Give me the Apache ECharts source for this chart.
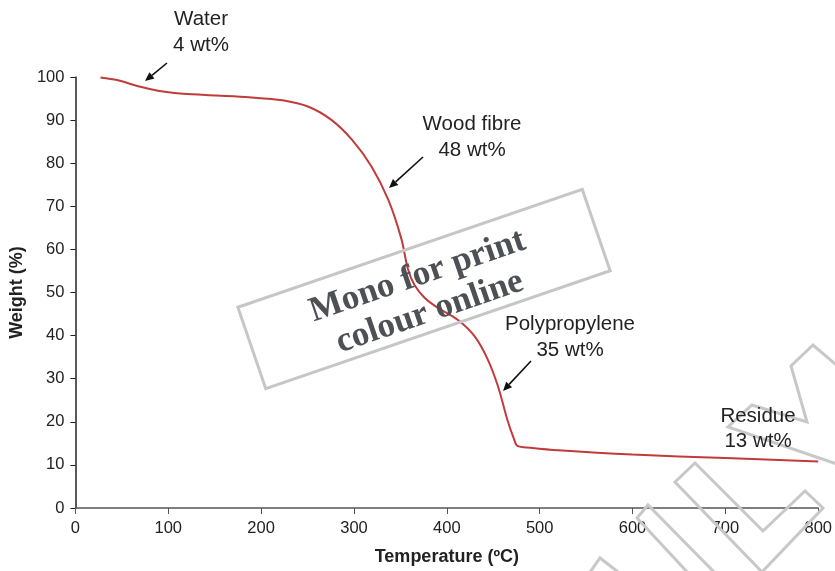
<!DOCTYPE html>
<html>
<head>
<meta charset="utf-8">
<script src="https://cdn.jsdelivr.net/npm/echarts@6/dist/echarts.min.js"></script>
<style>
html,body{margin:0;padding:0;background:#fff;}
#chart{width:835px;height:571px;}
</style>
</head>
<body>
<div id="chart"></div>
<script>
// Data
const temperature = [27, 45, 62, 80, 98, 116, 152, 187, 223, 251, 276, 298, 319, 337, 351, 358, 365, 376, 390, 412, 430, 444, 455, 465, 472, 476, 490, 520, 600, 700, 800];
const weight = [99.9, 99.3, 98.2, 97.2, 96.5, 96.1, 95.7, 95.3, 94.6, 93.1, 90.0, 85.4, 79.2, 71.5, 62.5, 55.5, 51.8, 48.8, 46.5, 43.6, 39.8, 34.5, 28.3, 20.6, 16.2, 14.4, 14.0, 13.4, 12.4, 11.6, 10.8];
const xTicks = [0, 100, 200, 300, 400, 500, 600, 700, 800];
const yTicks = [0, 10, 20, 30, 40, 50, 60, 70, 80, 90, 100];
const annotationTexts = ["Water\n4 wt%", "Wood fibre\n48 wt%", "Polypropylene\n35 wt%", "Residue\n13 wt%"];
const watermarkText = "Mono for print\ncolour online";

const seriesData = temperature.map((t, i) => [t, weight[i]]);

function arrow(x1, y1, x2, y2) {
  const a = Math.atan2(y2 - y1, x2 - x1);
  const L = 9, W = 4;
  const bx = x2 - L * Math.cos(a), by = y2 - L * Math.sin(a);
  const px = -Math.sin(a), py = Math.cos(a);
  return [
    {type: 'line', z: 50, shape: {x1: x1, y1: y1, x2: bx, y2: by}, style: {stroke: '#111', lineWidth: 1.6}},
    {type: 'polygon', z: 50, shape: {points: [[x2, y2], [bx + px * W, by + py * W], [bx - px * W, by - py * W]]}, style: {fill: '#111'}}
  ];
}
function label(x, y, txt, lh) {
  return {type: 'text', z: 50, x: x, y: y, style: {text: txt, font: '20.5px "Liberation Sans", Arial, sans-serif', fill: '#222', align: 'center', verticalAlign: 'middle', lineHeight: lh}};
}
function wm(points, closed) {
  return {type: closed ? 'polygon' : 'polyline', z: 40, shape: {points: points}, style: {stroke: '#c8c8c8', lineWidth: 3, fill: null, lineJoin: 'miter'}};
}

const graphics = [].concat(
  [label(201, 32, annotationTexts[0], 26)],
  arrow(167, 63, 145, 81),
  [label(472, 137, annotationTexts[1], 26)],
  arrow(423, 157, 389, 188),
  [label(570, 337, annotationTexts[2], 26)],
  arrow(531, 361, 503, 391),
  [label(758, 429, annotationTexts[3], 25)],
  [
    wm([[840, 368], [813, 345], [791, 366], [807, 422], [752, 405], [728, 427], [840, 465]], false),
    wm([[675, 482], [695, 463], [763, 531], [805, 491], [823, 508], [762, 572], [675, 482]], true),
    wm([[717, 575], [648, 505], [637, 518], [690, 575]], false),
    wm([[588, 575], [600, 558], [622, 575]], false),
    {
      type: 'group', x: 424, y: 289, rotation: 18.9 * Math.PI / 180, z: 60,
      children: [
        {type: 'rect', z: 60, shape: {x: -182, y: -43, width: 364, height: 86}, style: {stroke: '#c6c6c6', lineWidth: 3, fill: null}},
        {type: 'text', z: 61, x: -2, y: 5, style: {text: watermarkText, font: 'bold 35px "Liberation Serif", "Times New Roman", serif', fill: '#4d5054', align: 'center', verticalAlign: 'middle', lineHeight: 38}}
      ]
    }
  ]
);

const chart = echarts.init(document.getElementById('chart'), null, {renderer: 'canvas'});
chart.setOption({
  backgroundColor: '#fff',
  animation: false,
  grid: {left: 75, right: 12, top: 77, bottom: 62, containLabel: false},
  xAxis: {
    type: 'value', min: xTicks[0], max: xTicks[xTicks.length - 1], interval: 100,
    name: 'Temperature (ºC)', nameLocation: 'middle', nameGap: 40,
    nameTextStyle: {fontFamily: '"Liberation Sans", Arial, sans-serif', fontWeight: 'bold', fontSize: 18, color: '#222'},
    axisLine: {lineStyle: {color: '#555', width: 1.5}},
    axisTick: {show: true, length: 6, lineStyle: {color: '#555', width: 1}},
    axisLabel: {fontFamily: '"Liberation Sans", Arial, sans-serif', fontSize: 16.5, color: '#222', margin: 12},
    splitLine: {show: false}
  },
  yAxis: {
    type: 'value', min: yTicks[0], max: yTicks[yTicks.length - 1], interval: 10,
    name: 'Weight (%)', nameLocation: 'middle', nameGap: 48, nameRotate: 90,
    nameTextStyle: {fontFamily: '"Liberation Sans", Arial, sans-serif', fontWeight: 'bold', fontSize: 18, color: '#222'},
    axisLine: {show: true, lineStyle: {color: '#222', width: 1.5}},
    axisTick: {show: true, length: 5, lineStyle: {color: '#222', width: 1}},
    axisLabel: {fontFamily: '"Liberation Sans", Arial, sans-serif', fontSize: 16.5, color: '#222', margin: 11},
    splitLine: {show: false}
  },
  series: [{
    type: 'line', data: seriesData, showSymbol: false, symbol: 'none',
    smooth: 0.3,
    lineStyle: {color: '#c23b3b', width: 2},
    z: 10
  }],
  graphic: graphics
});
</script>
</body>
</html>
